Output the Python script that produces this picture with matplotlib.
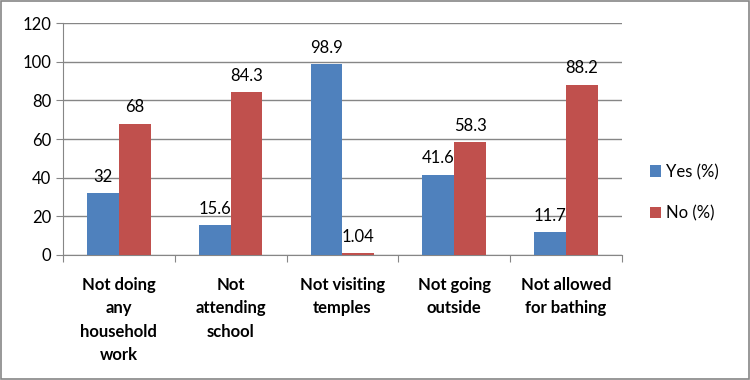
import numpy as np
import matplotlib.pyplot as plt

categories = ['Not doing\nany\nhousehold\nwork', 'Not\nattending\nschool', 'Not visiting\ntemples',
              'Not going\noutside', 'Not allowed\nfor bathing']
yes_vals = [32, 15.6, 98.9, 41.6, 11.7]
no_vals = [68, 84.3, 1.04, 58.3, 88.2]
yes_labels = ['32', '15.6', '98.9', '41.6', '11.7']
no_labels = ['68', '84.3', '1.04', '58.3', '88.2']

plt.rcParams['font.family'] = ['Lato', 'DejaVu Sans']

fig = plt.figure(figsize=(7.5, 3.8), dpi=100)
ax = fig.add_axes([0.084, 0.329, 0.745, 0.61])

x = np.arange(len(categories))
w = 0.285
b1 = ax.bar(x - w/2, yes_vals, w, color='#4F81BD', label='Yes (%)', zorder=3)
b2 = ax.bar(x + w/2, no_vals, w, color='#C0504D', label='No (%)', zorder=3)
ax.bar_label(b1, labels=yes_labels, padding=6, fontsize=12)
ax.bar_label(b2, labels=no_labels, padding=6, fontsize=12)

ax.set_ylim(0, 120)
ax.set_yticks(range(0, 121, 20))
ax.set_xlim(-0.5, len(categories) - 0.5)
ax.yaxis.grid(True, color='#868686', linewidth=1, zorder=0)
ax.set_xticks(np.arange(len(categories) + 1) - 0.5, minor=False)
ax.set_xticklabels([])
ax.set_xticks(x, minor=True)
ax.set_xticklabels(categories, minor=True, fontweight='bold', fontsize=12, linespacing=1.55)
ax.tick_params(axis='x', which='minor', length=0, pad=16)
ax.tick_params(axis='x', which='major', length=5, color='#868686')
ax.tick_params(axis='y', length=5, color='#868686', labelsize=12)
for s in ['top', 'right']:
    ax.spines[s].set_visible(False)
for s in ['left', 'bottom']:
    ax.spines[s].set_color('#868686')

ax.legend(loc='center left', bbox_to_anchor=(0.866, 0.493), bbox_transform=fig.transFigure,
          frameon=False, fontsize=12, borderaxespad=0, borderpad=0,
          handlelength=0.7, handleheight=0.7, handletextpad=0.3, labelspacing=1.5)

fig.patches.append(plt.Rectangle((0.001, 0.002), 0.997, 0.995, transform=fig.transFigure,
                                 fill=False, edgecolor='#868686', linewidth=1.2))
fig.savefig('out.png', dpi=100)
